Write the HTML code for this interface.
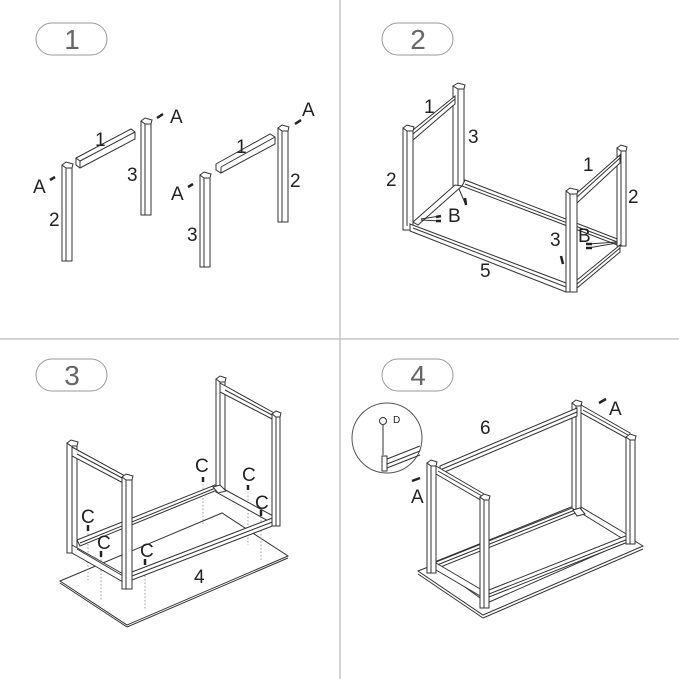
<!DOCTYPE html>
<html><head><meta charset="utf-8"><style>
html,body{margin:0;padding:0;background:#fff}
svg{display:block}
text{font-family:"Liberation Sans",sans-serif;fill:#222}
.p{fill:#fff;stroke:#333;stroke-width:1}
.l{stroke:#333;stroke-width:1;fill:none}
.pill{fill:#fff;stroke:#999;stroke-width:1}
.num{font-size:28px;fill:#666}
.lab{font-size:19px}
.d{stroke:#888;stroke-width:0.8;stroke-dasharray:1.5 2;fill:none}
.s{stroke:#222;stroke-width:2.5}
</style></head><body>
<svg width="679" height="679" viewBox="0 0 679 679" xmlns="http://www.w3.org/2000/svg">
<line x1="340" y1="0" x2="340" y2="679" stroke="#aaa" stroke-width="1"/>
<line x1="0" y1="339" x2="679" y2="339" stroke="#aaa" stroke-width="1"/>

<rect class="pill" x="36" y="23" width="71" height="32" rx="16"/><text class="num" x="72" y="49" text-anchor="middle">1</text>
<rect class="pill" x="382" y="23" width="71" height="32" rx="16"/><text class="num" x="418" y="49" text-anchor="middle">2</text>
<rect class="pill" x="36" y="359" width="71" height="32" rx="16"/><text class="num" x="72" y="385" text-anchor="middle">3</text>
<rect class="pill" x="382" y="359" width="71" height="32" rx="16"/><text class="num" x="418" y="385" text-anchor="middle">4</text>

<!-- PANEL 1 -->
<g>
<polygon class="p" points="76,158 131,129 135,132 135,139 80,168 76,165"/>
<line class="l" x1="76" y1="158" x2="80" y2="161"/><line class="l" x1="80" y1="161" x2="135" y2="132"/><line class="l" x1="80" y1="161" x2="80" y2="168"/>
<rect class="p" x="62" y="165" width="10" height="96"/><line class="l" x1="66" y1="168" x2="66" y2="261"/>
<polygon class="p" points="62,165 66,162 73,164 72,168 66,168"/>
<rect class="p" x="141" y="121" width="10" height="94"/><line class="l" x1="145" y1="124" x2="145" y2="215"/>
<polygon class="p" points="141,121 145,118 152,120 151,124 145,124"/>
<rect class="p" x="200" y="175" width="10" height="92"/><line class="l" x1="204" y1="178" x2="204" y2="267"/>
<polygon class="p" points="200,175 204,172 211,174 210,178 204,178"/>
<polygon class="p" points="216,164 270,134 275,137 275,144 221,173 216,170"/>
<line class="l" x1="221" y1="167" x2="275" y2="137"/><line class="l" x1="221" y1="167" x2="221" y2="173"/>
<rect class="p" x="278" y="128" width="10" height="94"/><line class="l" x1="282" y1="131" x2="282" y2="222"/>
<polygon class="p" points="278,128 282,125 289,127 288,131 282,131"/>
<line class="s" x1="50" y1="180" x2="55" y2="177"/><line class="s" x1="157" y1="118" x2="163" y2="114"/>
<line class="s" x1="188" y1="187" x2="193" y2="184"/><line class="s" x1="295" y1="124" x2="301" y2="120"/>
<text class="lab" x="33" y="193">A</text><text class="lab" x="170" y="123">A</text>
<text class="lab" x="95" y="146">1</text><text class="lab" x="127" y="181">3</text><text class="lab" x="49" y="226">2</text>
<text class="lab" x="171" y="200">A</text><text class="lab" x="302" y="116">A</text>
<text class="lab" x="236" y="153">1</text><text class="lab" x="290" y="187">2</text><text class="lab" x="187" y="241">3</text>
</g>

<!-- PANEL 2 -->
<g>
<rect class="p" x="453" y="86" width="11" height="100"/><line class="l" x1="458" y1="89" x2="458" y2="186"/>
<polygon class="p" points="453,86 458,83 465,85 464,89 458,89"/>
<polygon class="p" points="413,130 455,96 455,104 413,140"/>
<line class="l" x1="413" y1="134" x2="455" y2="99"/>
<polygon class="p" points="465,180 620,240 620,246 462,186"/>
<line class="l" x1="465" y1="184" x2="620" y2="243"/>
<polygon class="p" points="413,222 455,185 462,186 418,225"/>
<rect class="p" x="617" y="148" width="9" height="98"/><line class="l" x1="621" y1="151" x2="621" y2="246"/>
<polygon class="p" points="617,148 621,145 627,147 626,151 621,151"/>
<polygon class="p" points="577,193 620,155 620,163 577,203"/>
<line class="l" x1="577" y1="197" x2="620" y2="158"/>
<polygon class="p" points="577,280 620,245 620,252 577,288"/>
<line class="l" x1="577" y1="284" x2="620" y2="248"/>
<rect class="p" x="403" y="128" width="10" height="102"/><line class="l" x1="407" y1="131" x2="407" y2="226"/>
<polygon class="p" points="403,128 407,125 414,127 413,131 407,131"/>
<polygon class="p" points="410,224 566,283 566,292 410,231"/>
<line class="l" x1="413" y1="228" x2="566" y2="287"/>
<rect class="p" x="566" y="191" width="11" height="101"/><line class="l" x1="570" y1="194" x2="570" y2="292"/>
<polygon class="p" points="566,191 570,188 578,190 577,194 570,194"/>
<line class="l" x1="421" y1="219" x2="440" y2="216"/><line class="l" x1="421" y1="220" x2="440" y2="221"/>
<line class="s" x1="436" y1="217" x2="441" y2="216" stroke-width="2"/><line class="s" x1="436" y1="221" x2="441" y2="221" stroke-width="2"/>
<line class="l" x1="459" y1="189" x2="465" y2="203"/><line class="s" x1="465" y1="198" x2="466" y2="205" stroke-width="2"/>
<line class="l" x1="617" y1="242" x2="588" y2="244"/><line class="l" x1="617" y1="243" x2="588" y2="248"/>
<line class="s" x1="586" y1="244" x2="592" y2="244" stroke-width="2"/><line class="s" x1="586" y1="248" x2="592" y2="248" stroke-width="2"/>
<line class="s" x1="561" y1="256" x2="563" y2="264" stroke-width="2"/>
<text class="lab" x="424" y="113">1</text><text class="lab" x="468" y="143">3</text><text class="lab" x="386" y="186">2</text>
<text class="lab" x="448" y="222">B</text><text class="lab" x="583" y="171">1</text><text class="lab" x="628" y="203">2</text>
<text class="lab" x="550" y="246">3</text><text class="lab" x="578" y="242">B</text><text class="lab" x="480" y="277">5</text>
</g>

<!-- PANEL 3 -->
<g>
<polygon class="p" points="60,581 222,513 288,556 127,625"/>
<line class="l" x1="60" y1="583" x2="127" y2="627"/><line class="l" x1="127" y1="627" x2="288" y2="558"/>
<line class="d" x1="88" y1="530" x2="88" y2="580"/><line class="d" x1="101" y1="556" x2="101" y2="600"/>
<line class="d" x1="145" y1="572" x2="145" y2="610"/><line class="d" x1="203" y1="484" x2="203" y2="526"/>
<line class="d" x1="248" y1="492" x2="248" y2="545"/><line class="d" x1="261" y1="513" x2="261" y2="560"/>
<rect class="p" x="216" y="379" width="9" height="112"/><line class="l" x1="220" y1="382" x2="220" y2="491"/>
<polygon class="p" points="216,379 220,376 226,378 225,382 220,382"/>
<polygon class="p" points="220,383 276,414 276,421 220,392"/>
<line class="l" x1="225" y1="390" x2="274" y2="416"/>
<polygon class="p" points="77,540 215,485 222,488 80,546"/>
<line class="l" x1="80" y1="543" x2="218" y2="487"/>
<polygon class="p" points="220,487 275,517 272,523 216,492"/>
<rect class="p" x="67" y="443" width="10" height="110"/><line class="l" x1="72" y1="446" x2="72" y2="553"/>
<polygon class="p" points="67,443 71,440 78,442 77,446 71,446"/>
<polygon class="p" points="72,447 127,477 127,485 72,456"/>
<line class="l" x1="77" y1="454" x2="124" y2="479"/>
<polygon class="p" points="72,545 125,575 125,583 72,553"/>
<line class="l" x1="77" y1="549" x2="123" y2="576"/>
<polygon class="p" points="132,572 275,517 275,525 132,580"/>
<line class="l" x1="132" y1="576" x2="275" y2="521"/>
<rect class="p" x="272" y="414" width="8" height="112"/><line class="l" x1="276" y1="417" x2="276" y2="526"/>
<polygon class="p" points="272,414 276,411 281,413 280,417 276,417"/>
<rect class="p" x="122" y="477" width="10" height="112"/><line class="l" x1="126" y1="480" x2="126" y2="589"/>
<polygon class="p" points="122,477 126,474 133,476 132,480 126,480"/>
<polygon class="p" points="213,487 220,485 226,491 218,493"/>
<g class="s" stroke-width="2"><line x1="88" y1="525" x2="88" y2="531"/><line x1="101" y1="551" x2="101" y2="557"/><line x1="145" y1="559" x2="145" y2="565"/><line x1="203" y1="477" x2="203" y2="482"/><line x1="248" y1="485" x2="248" y2="490"/><line x1="261" y1="510" x2="261" y2="516"/></g>
<text class="lab" x="81" y="523">C</text><text class="lab" x="97" y="549">C</text><text class="lab" x="140" y="557">C</text>
<text class="lab" x="195" y="472">C</text><text class="lab" x="242" y="481">C</text><text class="lab" x="255" y="509">C</text>
<text class="lab" x="194" y="583">4</text>
</g>

<!-- PANEL 4 -->
<g>
<polygon class="p" points="418,571 580,508 643,546 483,615"/>
<line class="l" x1="418" y1="574" x2="483" y2="618"/><line class="l" x1="483" y1="618" x2="643" y2="549"/>
<polygon class="p" points="432,563 576,505 630,540 487,603" style="fill:none"/>
<rect class="p" x="572" y="403" width="9" height="110"/><line class="l" x1="576" y1="406" x2="576" y2="513"/>
<polygon class="p" points="572,403 576,400 582,402 581,406 576,406"/>
<polygon class="p" points="581,405 630,433 630,440 581,413"/>
<line class="l" x1="583" y1="410" x2="628" y2="435"/>
<polygon class="p" points="436,562 572,508 578,512 438,568"/>
<line class="l" x1="437" y1="565" x2="575" y2="510"/>
<polygon class="p" points="581,507 628,535 628,542 581,513"/>
<polygon class="p" points="440,466 577,408 577,416 440,474"/>
<line class="l" x1="440" y1="470" x2="577" y2="412"/>
<rect class="p" x="427" y="463" width="9" height="110"/><line class="l" x1="431" y1="466" x2="431" y2="573"/>
<polygon class="p" points="427,463 431,460 437,462 436,466 431,466"/>
<polygon class="p" points="436,466 484,494 484,502 436,474"/>
<line class="l" x1="438" y1="471" x2="482" y2="496"/>
<polygon class="p" points="436,563 482,590 482,597 436,570"/>
<polygon class="p" points="489,590 628,535 628,542 489,597"/>
<line class="l" x1="489" y1="594" x2="628" y2="539"/>
<rect class="p" x="626" y="437" width="9" height="107"/><line class="l" x1="630" y1="440" x2="630" y2="544"/>
<polygon class="p" points="626,437 630,434 636,436 635,440 630,440"/>
<rect class="p" x="480" y="497" width="9" height="111"/><line class="l" x1="484" y1="500" x2="484" y2="608"/>
<polygon class="p" points="480,497 484,494 490,496 489,500 484,500"/>
<polygon class="p" points="573,510 580,508 585,514 577,516"/>
<circle cx="387" cy="438" r="35" fill="#fff" stroke="#555" stroke-width="1"/>
<line class="l" x1="383" y1="425" x2="383" y2="455"/>
<circle cx="383" cy="421" r="3.5" fill="none" stroke="#333"/>
<rect class="p" x="382" y="456" width="5" height="15"/>
<polyline class="l" points="387,459 420,446"/><polyline class="l" points="387,464 420,451"/><polyline class="l" points="387,468 420,455"/>
<line class="s" x1="412" y1="481" x2="420" y2="478" stroke-width="2"/>
<line class="s" x1="599" y1="403" x2="606" y2="399" stroke-width="2"/>
<text x="393" y="423" style="font-size:10px">D</text>
<text class="lab" x="411" y="503">A</text><text class="lab" x="609" y="415">A</text>
<text class="lab" x="480" y="434">6</text>
</g>
</svg>
</body></html>
